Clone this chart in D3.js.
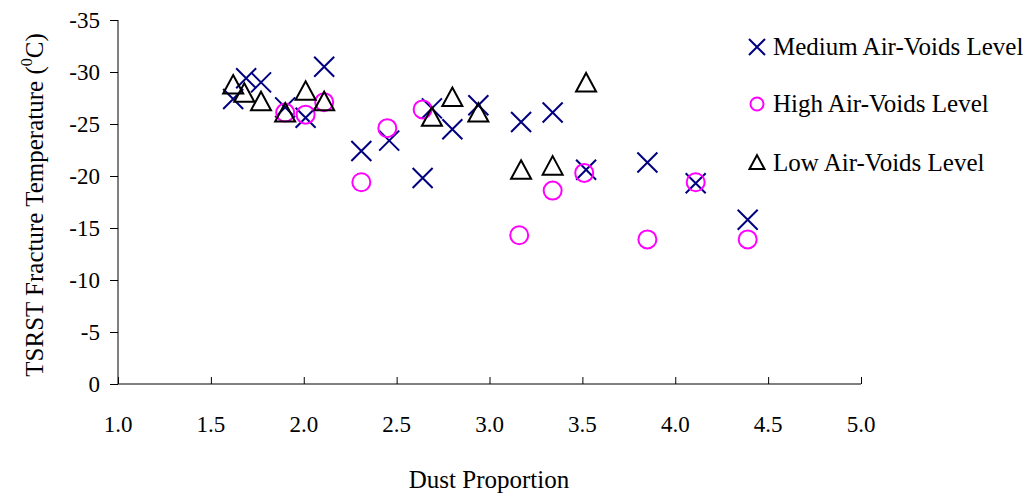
<!DOCTYPE html>
<html><head><meta charset="utf-8">
<script src="https://cdn.jsdelivr.net/npm/d3@7"></script>
<style>body{margin:0;background:#fff}svg{display:block}text{font-family:"Liberation Serif","Times New Roman",serif;fill:#000}</style>
</head><body><svg id="c" width="1034" height="497"></svg>
<script>
const mediumX = [1.62,1.69,1.77,1.90,2.01,2.11,2.31,2.46,2.64,2.69,2.80,2.94,3.17,3.34,3.52,3.85,4.11,4.39];
const mediumY = [-27.4,-29.4,-29.0,-26.6,-25.6,-30.5,-22.4,-23.4,-19.8,-26.5,-24.5,-26.8,-25.2,-26.1,-20.6,-21.3,-19.3,-15.8];
const highX = [1.90,2.01,2.11,2.31,2.45,2.64,3.16,3.34,3.51,3.85,4.11,4.39];
const highY = [-26.1,-25.9,-27.1,-19.4,-24.6,-26.4,-14.3,-18.6,-20.3,-13.9,-19.4,-13.9];
const lowX = [1.62,1.68,1.77,1.90,2.01,2.11,2.69,2.80,2.94,3.17,3.34,3.52];
const lowY = [-28.7,-27.9,-27.1,-26.0,-28.1,-27.1,-25.6,-27.5,-26.0,-20.5,-20.9,-28.9];
const xTicks = [1.0,1.5,2.0,2.5,3.0,3.5,4.0,4.5,5.0];
const yTicks = [0,-5,-10,-15,-20,-25,-30,-35];
const seriesNames = ["Medium Air-Voids Level","High Air-Voids Level","Low Air-Voids Level"];

const svg = d3.select("#c");
const x = d3.scaleLinear().domain([1,5]).range([118,861]);
const y = d3.scaleLinear().domain([0,-35]).range([384,20]);

// axes
const xa = svg.append("g").attr("transform","translate(0,384)")
  .call(d3.axisTop(x).tickValues(xTicks).tickSize(7).tickFormat(""));
xa.select(".domain").attr("d",`M${x(1)},0H${x(5)}`);
xa.selectAll("line,path").attr("stroke","#000");
svg.append("g").selectAll("text").data(xTicks).join("text")
  .attr("x",d=>x(d)).attr("y",432).attr("text-anchor","middle")
  .style("font-size","23px").text(d=>d.toFixed(1));

const ya = svg.append("g").attr("transform","translate(118,0)")
  .call(d3.axisLeft(y).tickValues(yTicks).tickSize(8).tickFormat(""));
ya.select(".domain").attr("d",`M0,${y(-35)}V${y(0)}`);
ya.selectAll("line,path").attr("stroke","#000");
svg.append("g").selectAll("text").data(yTicks).join("text")
  .attr("x",100).attr("y",d=>y(d)+8).attr("text-anchor","end")
  .style("font-size","23px").text(d=>d);

// titles
svg.append("text").attr("x",489).attr("y",488).attr("text-anchor","middle")
  .style("font-size","25px").text("Dust Proportion");
const yt = svg.append("text").attr("transform","translate(43,205) rotate(-90)")
  .attr("text-anchor","middle").style("font-size","25px");
yt.append("tspan").text("TSRST Fracture Temperature (");
yt.append("tspan").attr("dy",-11).style("font-size","16px").text("0");
yt.append("tspan").attr("dy",11).text("C)");

// marker generators
function cross(g, s){ g.append("path").attr("d",`M${-s},${-s}L${s},${s}M${-s},${s}L${s},${-s}`).attr("stroke","#000080").attr("stroke-width",2).attr("fill","none"); }
function circ(g, r){ g.append("circle").attr("r",r).attr("stroke","#ff00ff").attr("stroke-width",2).attr("fill","none"); }
function tri(g, s){ g.append("path").attr("d",`M0,${-s*1.05}L${s},${s*0.8}L${-s},${s*0.8}Z`).attr("stroke","#000").attr("stroke-width",2).attr("fill","none"); }

const plot = svg.append("g");
const med = d3.zip(mediumX, mediumY), hi = d3.zip(highX, highY), lo = d3.zip(lowX, lowY);
plot.selectAll(".m").data(med).join("g").attr("class","m")
  .attr("transform",d=>`translate(${x(d[0])},${y(d[1])})`).each(function(){cross(d3.select(this),10);});
plot.selectAll(".h").data(hi).join("g").attr("class","h")
  .attr("transform",d=>`translate(${x(d[0])},${y(d[1])})`).each(function(){circ(d3.select(this),9);});
plot.selectAll(".l").data(lo).join("g").attr("class","l")
  .attr("transform",d=>`translate(${x(d[0])},${y(d[1])})`).each(function(){tri(d3.select(this),10);});

// legend
const lg = svg.append("g");
const ly = [47,104,163];
const drawers = [g=>cross(g,8), g=>circ(g,6.5), g=>tri(g,7.5)];
seriesNames.forEach((n,i)=>{
  const g = lg.append("g").attr("transform",`translate(757,${ly[i]})`);
  drawers[i](g);
  lg.append("text").attr("x",773).attr("y",ly[i]+8).style("font-size","25px").text(n);
});
</script></body></html>
